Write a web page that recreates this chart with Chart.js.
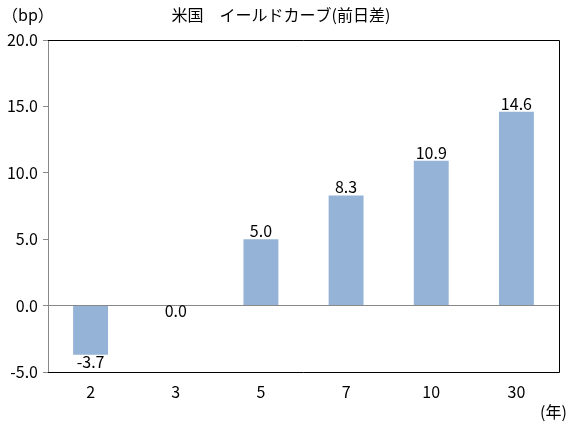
<!DOCTYPE html>
<html><head><meta charset="utf-8">
<script src="https://cdn.jsdelivr.net/npm/chart.js@4"></script>
<style>html,body{margin:0;padding:0;background:#fff;}#wrap{width:572px;height:425px;}</style>
</head><body><div id="wrap"><canvas id="c" width="572" height="425"></canvas></div>
<script>
const categories = ['2', '3', '5', '7', '10', '30'];
const changes = [-3.7, 0.0, 5.0, 8.3, 10.9, 14.6];
const yTicks = [-5, 0, 5, 10, 15, 20];
const titleText = '米国\u3000イールドカーブ(前日差)';
const yUnit = '（bp）';
const xUnit = '(年)';

const FONT = '"Noto Sans CJK JP", "DejaVu Sans", sans-serif';

const extras = {
  id: 'extras',
  afterDraw(chart) {
    const ctx = chart.ctx, a = chart.chartArea;
    ctx.save();
    // frame top/right/bottom
    ctx.strokeStyle = '#000'; ctx.lineWidth = 1;
    ctx.beginPath();
    ctx.moveTo(a.left, a.top + 0.5); ctx.lineTo(a.right + 0.5, a.top + 0.5);
    ctx.lineTo(a.right + 0.5, a.bottom + 0.5); ctx.lineTo(a.left, a.bottom + 0.5);
    ctx.stroke();
    // data labels
    ctx.fillStyle = '#000';
    ctx.font = '16px ' + FONT;
    ctx.textAlign = 'center';
    const meta = chart.getDatasetMeta(0);
    meta.data.forEach((bar, i) => {
      const v = changes[i];
      const s = v.toFixed(1);
      if (v > 0) { ctx.textBaseline = 'bottom'; ctx.fillText(s, bar.x, bar.y); }
      else if (v < 0) { ctx.textBaseline = 'top'; ctx.fillText(s, bar.x, bar.y - 1); }
      else { ctx.textBaseline = 'middle'; ctx.fillText(s, bar.x, bar.y + 5); }
    });
    // texts
    ctx.font = '16px ' + FONT;
    ctx.textBaseline = 'middle';
    ctx.textAlign = 'left';
    ctx.fillText(yUnit, 2, 15);
    ctx.textAlign = 'center';
    ctx.fillText(titleText, 281, 15);
    ctx.textAlign = 'left';
    ctx.fillText(xUnit, 540, 412);
    ctx.restore();
  }
};

new Chart(document.getElementById('c'), {
  type: 'bar',
  data: {
    labels: categories,
    datasets: [{ data: changes, backgroundColor: '#95B3D7', borderWidth: 0, categoryPercentage: 1, barPercentage: 0.41 }]
  },
  options: {
    responsive: false, animation: false,
    layout: { padding: { top: 40, right: 13, left: 0, bottom: 0 } },
    plugins: { legend: { display: false }, tooltip: { enabled: false }, title: { display: false } },
    scales: {
      x: {
        grid: { display: false, drawTicks: false },
        border: { display: false },
        ticks: { color: '#000', font: { size: 16, family: FONT }, padding: 10, maxRotation: 0 },
        afterFit(s) { s.height = 53; }
      },
      y: {
        min: -5, max: 20,
        afterBuildTicks(s) { s.ticks = yTicks.map(v => ({ value: v })); },
        grid: {
          color: c => (c.tick && c.tick.value === 0) ? '#888' : 'rgba(0,0,0,0)',
          tickColor: '#888', tickLength: 5, lineWidth: 1
        },
        border: { color: '#888', width: 1 },
        ticks: { color: '#000', font: { size: 16, family: FONT }, padding: 5, callback: v => Number(v).toFixed(1) },
        afterFit(s) { s.width = 48; }
      }
    }
  },
  plugins: [extras]
});
</script></body></html>
